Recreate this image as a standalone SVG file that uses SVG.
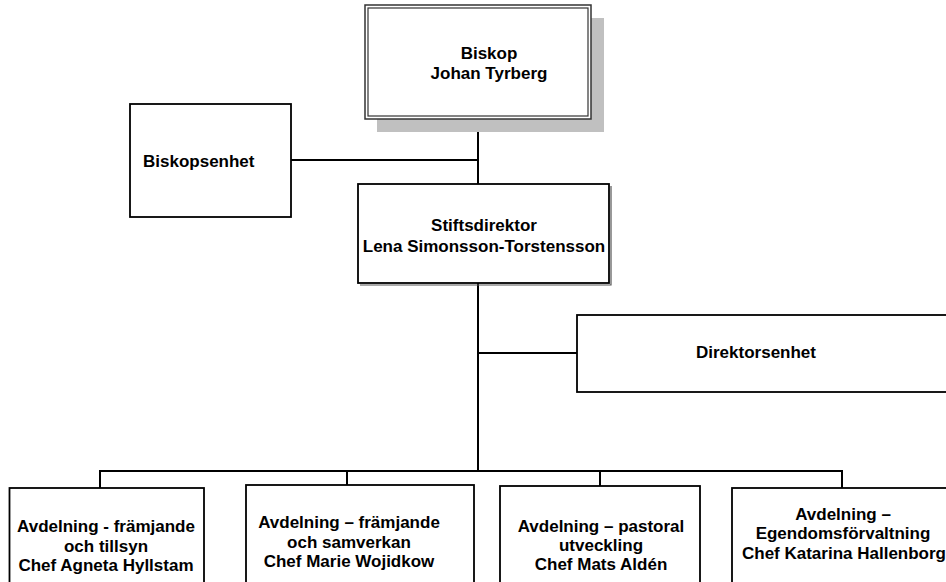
<svg xmlns="http://www.w3.org/2000/svg" width="946" height="582" viewBox="0 0 946 582">
<style>
.box{fill:#fff;stroke:#000;stroke-width:1.8}
.ln{fill:none;stroke:#000;stroke-width:2}
text{font-family:"Liberation Sans",Arial,sans-serif;font-weight:bold;font-size:17px;fill:#000;text-anchor:middle}
</style>
<rect width="946" height="582" fill="#fff"/>
<g id="connectors">
<line class="ln" x1="478" y1="119" x2="478" y2="184"/>
<line class="ln" x1="291" y1="160" x2="478" y2="160"/>
<line class="ln" x1="478" y1="283" x2="478" y2="472"/>
<line class="ln" x1="478" y1="353" x2="577" y2="353"/>
<line class="ln" x1="99" y1="471" x2="843" y2="471"/>
<line class="ln" x1="100" y1="470" x2="100" y2="488"/>
<line class="ln" x1="347" y1="470" x2="347" y2="485"/>
<line class="ln" x1="600" y1="470" x2="600" y2="486"/>
<line class="ln" x1="842" y1="470" x2="842" y2="488"/>
</g>
<g id="biskop">
<rect x="377" y="18" width="227" height="114" fill="#c0c0c0"/>
<rect x="365" y="5" width="226" height="114" fill="#fff" stroke="#333" stroke-width="1.5"/>
<rect x="368" y="8" width="220" height="108" fill="none" stroke="#333" stroke-width="1.2"/>
<text x="489" y="59">Biskop</text>
<text x="489" y="79">Johan Tyrberg</text>
</g>
<g id="biskopsenhet">
<rect class="box" x="130" y="104" width="161" height="113"/>
<text x="143" y="167" style="text-anchor:start">Biskopsenhet</text>
</g>
<g id="stiftsdirektor">
<polyline points="611,186 611,285 360,285" fill="none" stroke="#555" stroke-width="1.2"/>
<rect class="box" x="358" y="184" width="251" height="99"/>
<text x="484" y="231">Stiftsdirektor</text>
<text x="484" y="252">Lena Simonsson-Torstensson</text>
</g>
<g id="direktorsenhet">
<rect class="box" x="577" y="315" width="380" height="77"/>
<text x="756" y="358">Direktorsenhet</text>
</g>
<g id="avd1">
<rect class="box" x="9.5" y="488" width="194.5" height="110"/>
<text x="106" y="532">Avdelning - främjande</text>
<text x="106" y="551.5">och tillsyn</text>
<text x="106" y="571">Chef Agneta Hyllstam</text>
</g>
<g id="avd2">
<rect class="box" x="246" y="485" width="228" height="110"/>
<text x="349" y="528">Avdelning – främjande</text>
<text x="349" y="547.5">och samverkan</text>
<text x="349" y="567">Chef Marie Wojidkow</text>
</g>
<g id="avd3">
<rect class="box" x="500" y="486" width="200" height="110"/>
<text x="601" y="531.5">Avdelning – pastoral</text>
<text x="601" y="550.5">utveckling</text>
<text x="601" y="569.5">Chef Mats Aldén</text>
</g>
<g id="avd4">
<rect class="box" x="732" y="488" width="230" height="110"/>
<text x="843" y="519.5">Avdelning –</text>
<text x="843" y="539">Egendomsförvaltning</text>
<text x="844" y="559">Chef Katarina Hallenborg</text>
</g>
</svg>
